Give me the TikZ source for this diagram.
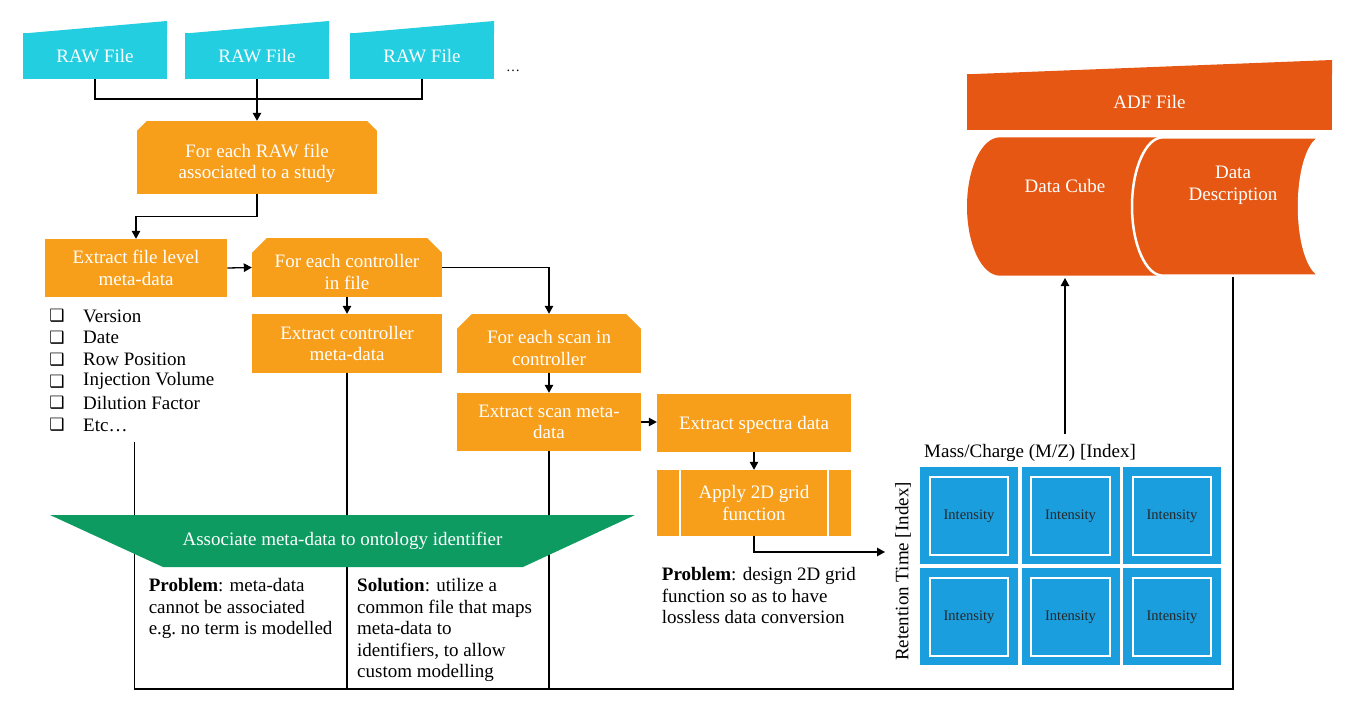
\documentclass[tikz,border=0pt]{standalone}
\usepackage{fontspec}
\setmainfont{Liberation Serif}
\newfontfamily\symfont{DejaVu Sans}
\usepackage{xcolor}
\usepackage{tikz}
\usetikzlibrary{arrows.meta, positioning, calc}
\definecolor{rawcyan}{RGB}{35,206,224}
\definecolor{steporange}{RGB}{247,158,27}
\definecolor{adforange}{RGB}{229,87,18}
\definecolor{ontogreen}{RGB}{14,155,98}
\definecolor{gridblue}{RGB}{27,158,222}
\tikzset{
    boxtext/.style={text=white, align=center, font=\fontsize{19}{21.5}\selectfont, inner sep=0pt},
    stepbox/.style={boxtext, fill=steporange, minimum height=58pt},
    rawbox/.style={boxtext, fill=rawcyan, minimum width=144pt, minimum height=46pt},
    arr/.style={-{Triangle[length=8pt,width=8.5pt]}, line width=1.3pt},
    link/.style={line width=1.3pt},
    note/.style={align=left, font=\fontsize{19}{21.5}\selectfont, inner sep=0pt, anchor=north west},
    cell/.style={fill=gridblue, minimum width=98pt, minimum height=97pt, inner sep=0pt, font=\fontsize{14.5}{16}\selectfont, text=black!85}
}

\begin{document}
\begin{tikzpicture}[x=1pt, y=-1pt]
    \useasboundingbox (0,0) rectangle (1356,714);
    % RAW files
    \foreach \n/\x in {1/95, 2/257, 3/422} {
        \fill[rawcyan] (\x-72,33.5) -- (\x+72,21) -- (\x+72,33.5) -- cycle;
        \node[rawbox] (raw\n) at (\x,56) {RAW File};
    }
    \node[inner sep=0pt, font=\fontsize{14}{14}\selectfont] (more) at (513,71) {\ldots};
    % Loop over files, controllers and scans
    \node[stepbox, minimum width=240pt, minimum height=73pt,
          label={[boxtext, yshift=-6pt]center:{For each RAW file\\associated to a study}}] (rawloop) at (257,157.5) {};
    \node[stepbox, minimum width=182.5pt] (filemeta) at (136,268) {Extract file level\\meta-data};
    \node[stepbox, minimum width=190pt, minimum height=59pt,
          label={[boxtext, yshift=-4.5pt]center:{For each controller\\in file}}] (ctrlloop) at (347,267.5) {};
    \node[stepbox, minimum width=190pt, minimum height=59pt] (ctrlmeta) at (347,343.5) {Extract controller\\meta-data};
    \node[stepbox, minimum width=184pt, minimum height=59pt,
          label={[boxtext, yshift=-4.5pt]center:{For each scan in\\controller}}] (scanloop) at (549,343.5) {};
    \node[stepbox, minimum width=184pt] (scanmeta) at (549,422) {Extract scan meta-\\data};
    \node[stepbox, minimum width=194pt, label={[boxtext, yshift=-2pt]center:Extract spectra data}] (spectra) at (754,423) {};
    \node[stepbox, minimum width=194pt, minimum height=66pt] (apply) at (754,503) {Apply 2D grid\\function};
    \foreach \s in {-1,1} {
        \draw[white, line width=1.5pt] ($(apply.north)+(\s*74,0)$) -- ($(apply.south)+(\s*74,0)$);
    }
    % chamfered loop corners
    \foreach \b/\c in {rawloop/10, ctrlloop/15, scanloop/15} {
        \fill[white] (\b.north west) -- ++(\c,0) -- ++(-\c,\c) -- cycle;
        \fill[white] (\b.north east) -- ++(-\c,0) -- ++(\c,\c) -- cycle;
    }
    % File level meta-data list
    \foreach \t [count=\i] in {Version, Date, Row Position, Injection Volume, Dilution Factor, Etc\ldots} {
        \node[note, anchor=west] (item\i) at (83,316+21.8*\i-21.8) {\t};
        \node[inner sep=0pt, font=\symfont\fontsize{17}{17}\selectfont] (tick\i) at (57,316+21.8*\i-21.8) {❑};
    }
    % Flow
    \coordinate (join) at (257,99);
    \draw[link] (raw1.south) |- (join) -| (raw3.south);
    \draw[arr] (raw2.south) -- (rawloop.north);
    \draw[arr] (rawloop.south) -- ++(0,22) -| (filemeta.north);
    \draw[arr] (filemeta.east) -- (ctrlloop.west);
    \draw[arr] (ctrlloop.south) -- (ctrlmeta.north);
    \draw[arr] (ctrlloop.east) -| (scanloop.north);
    \draw[arr] (scanloop.south) -- (scanmeta.north);
    \draw[arr] (scanmeta.east) -- (scanmeta.east -| spectra.west);
    \draw[arr] (spectra.south) -- (apply.north);
    % Return lines
    \coordinate (listend) at (134.7,442);
    \coordinate (descbot) at (1233,276);
    \coordinate (loopcorner) at (1233,689);
    \draw[link] (descbot) -- (loopcorner) -| (listend);
    \draw[link] (ctrlmeta.south) -- (ctrlmeta.south |- loopcorner);
    \draw[link] (scanmeta.south) -- (scanmeta.south |- loopcorner);
    % Ontology
    \fill[ontogreen] (50,515) -- (635,515) -- (523,567) -- (163,567) -- cycle;
    \node[boxtext] (assoc) at (342.5,541) {Associate meta-data to ontology identifier};
    \node[note] (problem) at (148.6,578.5) {\textbf{Problem}: meta-data\\cannot be associated\\e.g.\ no term is modelled};
    \node[note] (solution) at (357,578.5) {\textbf{Solution}: utilize a\\common file that maps\\meta-data to\\identifiers, to allow\\custom modelling};
    \node[note] (gridproblem) at (661.7,567.5) {\textbf{Problem}: design 2D grid\\function so as to have\\lossless data conversion};
    % Intensity grid
    \foreach \r in {0,1} {
        \foreach \c in {0,1,2} {
            \node[cell] (cell-\r-\c) at (969+101.5*\c,515.8+101*\r) {Intensity};
            \draw[white, line width=2pt] ([shift={(10,10)}]cell-\r-\c.north west) rectangle ([shift={(-10,-10)}]cell-\r-\c.south east);
        }
    }
    \node[note, anchor=west] (mz) at (924,453) {Mass/Charge (M/Z) [Index]};
    \node[note, anchor=center, rotate=90] (rt) at (903,571.5) {Retention Time [Index]};
    \coordinate (gridin) at (885,552);
    \draw[arr] (apply.south) |- (gridin);
    % ADF file
    \fill[adforange] (967,74.3) -- (1332,60) -- (1332,74.3) -- cycle;
    \node[boxtext, fill=adforange, minimum width=365pt, minimum height=56pt] (adf) at (1149.5,102) {ADF File};
    \fill[adforange] (1000,275.7) -- (1200,275.7) -- (1200,137.3) -- (1000,137.3) arc[start angle=-90, end angle=-270, x radius=33, y radius=69.2] -- cycle;
    \filldraw[fill=adforange, draw=white, line width=2.5pt] (1163,137.3) arc[start angle=-90, end angle=-270, x radius=31, y radius=69.2] -- (1323,275.7) arc[start angle=90, end angle=270, x radius=24, y radius=69.2] -- cycle;
    \node[boxtext] (cube) at (1065,186) {Data Cube};
    \node[boxtext] (desc) at (1233,185.5) {Data\\Description};
    \coordinate (gridout) at (1065,434);
    \coordinate (cubebot) at (1065,278);
    \draw[arr] (gridout) -- (cubebot);
\end{tikzpicture}
\end{document}
